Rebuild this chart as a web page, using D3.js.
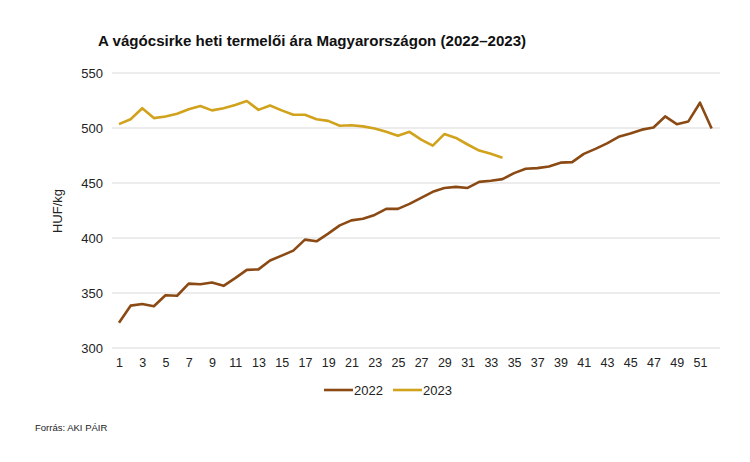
<!DOCTYPE html>
<html>
<head>
<meta charset="utf-8">
<script src="https://cdn.jsdelivr.net/npm/d3@7"></script>
<style>
  body { margin: 0; background: #fff; }
  svg text { font-family: "Liberation Sans", Arial, sans-serif; fill: #222; }
</style>
</head>
<body>
<script>
let weeks = d3.range(1, 53);

let prices2022 = [323, 338.5, 340, 338, 348, 347.5, 358.5, 358, 359.5, 356.5,
    363.5, 371, 371.5, 379.5, 384, 388.5, 398.5, 397, 404, 411.5,
    416, 417.5, 421, 426.5, 426.5, 431, 436.5, 442, 445.5, 446.5,
    445.5, 451, 452, 453.5, 459, 463, 463.5, 465, 468.5, 469,
    476.5, 481, 486, 492, 495, 498.5, 500.5, 510.5, 503.5, 506,
    523, 499.5];

let prices2023 = [503.5, 508, 518, 509, 510.5, 513, 517, 520, 516, 518,
    521, 524.5, 516.5, 520.5, 516, 512, 512, 508, 506.5, 502,
    502.5, 501.5, 499.5, 496.5, 493, 496.5, 489.5, 484, 494.5, 491,
    485, 479.5, 476.5, 473];

let yTicks = [300, 350, 400, 450, 500, 550];
let xTickLabels = d3.range(1, 52, 2);

let seriesNames = ["2022", "2023"];
let colors = ["#8b4a14", "#d1a21c"];

let svgWidth = 750,
    svgHeight = 462,
    plot = { left: 112, right: 720, top: 73, bottom: 348 };

let svg = d3.select("body").append("svg")
    .attr("width", svgWidth)
    .attr("height", svgHeight);

let xScale = d3.scaleLinear().domain([1, 51]).range([119, 700]);
let yScale = d3.scaleLinear().domain([300, 550]).range([plot.bottom, plot.top]);

// title
svg.append("text")
    .attr("x", 98)
    .attr("y", 46)
    .style("font-size", "15.1px")
    .style("font-weight", "bold")
    .style("fill", "#111")
    .text("A vágócsirke heti termelői ára Magyarországon (2022–2023)");

// grid
svg.append("g")
    .selectAll("line")
    .data(yTicks)
    .join("line")
    .attr("x1", plot.left)
    .attr("x2", plot.right)
    .attr("y1", d => yScale(d))
    .attr("y2", d => yScale(d))
    .attr("stroke", "#d9d9d9")
    .attr("stroke-width", 1);

// y axis
let yAxis = d3.axisLeft(yScale).tickValues(yTicks).tickSize(0).tickPadding(0);
let gy = svg.append("g")
    .attr("transform", "translate(103,0)")
    .call(yAxis);
gy.select(".domain").remove();
gy.selectAll("text")
    .style("font-size", "13px")
    .style("font-family", "'Liberation Sans', Arial, sans-serif")
    .attr("fill", "#222");

// x axis
let xAxis = d3.axisBottom(xScale).tickValues(xTickLabels).tickSize(0).tickPadding(0);
let gx = svg.append("g")
    .attr("transform", "translate(0,358)")
    .call(xAxis);
gx.select(".domain").remove();
gx.selectAll("text")
    .style("font-size", "12.5px")
    .style("font-family", "'Liberation Sans', Arial, sans-serif")
    .attr("fill", "#222");

// y title
svg.append("text")
    .attr("transform", "translate(62,211) rotate(-90)")
    .attr("text-anchor", "middle")
    .style("font-size", "13px")
    .text("HUF/kg");

// lines
let line = d3.line()
    .x((d, i) => xScale(weeks[i]))
    .y(d => yScale(d));

[prices2022, prices2023].forEach((values, i) => {
    svg.append("path")
        .datum(values)
        .attr("fill", "none")
        .attr("stroke", colors[i])
        .attr("stroke-width", 2.6)
        .attr("stroke-linejoin", "round")
        .attr("d", line);
});

// legend
let legendX = [324, 393];
seriesNames.forEach((name, i) => {
    svg.append("line")
        .attr("x1", legendX[i])
        .attr("x2", legendX[i] + 29)
        .attr("y1", 390)
        .attr("y2", 390)
        .attr("stroke", colors[i])
        .attr("stroke-width", 2.6);
    svg.append("text")
        .attr("x", legendX[i] + 30)
        .attr("y", 394.5)
        .style("font-size", "13px")
        .text(name);
});

// source
svg.append("text")
    .attr("x", 35)
    .attr("y", 431)
    .style("font-size", "9.5px")
    .text("Forrás: AKI PÁIR");
</script>
</body>
</html>
